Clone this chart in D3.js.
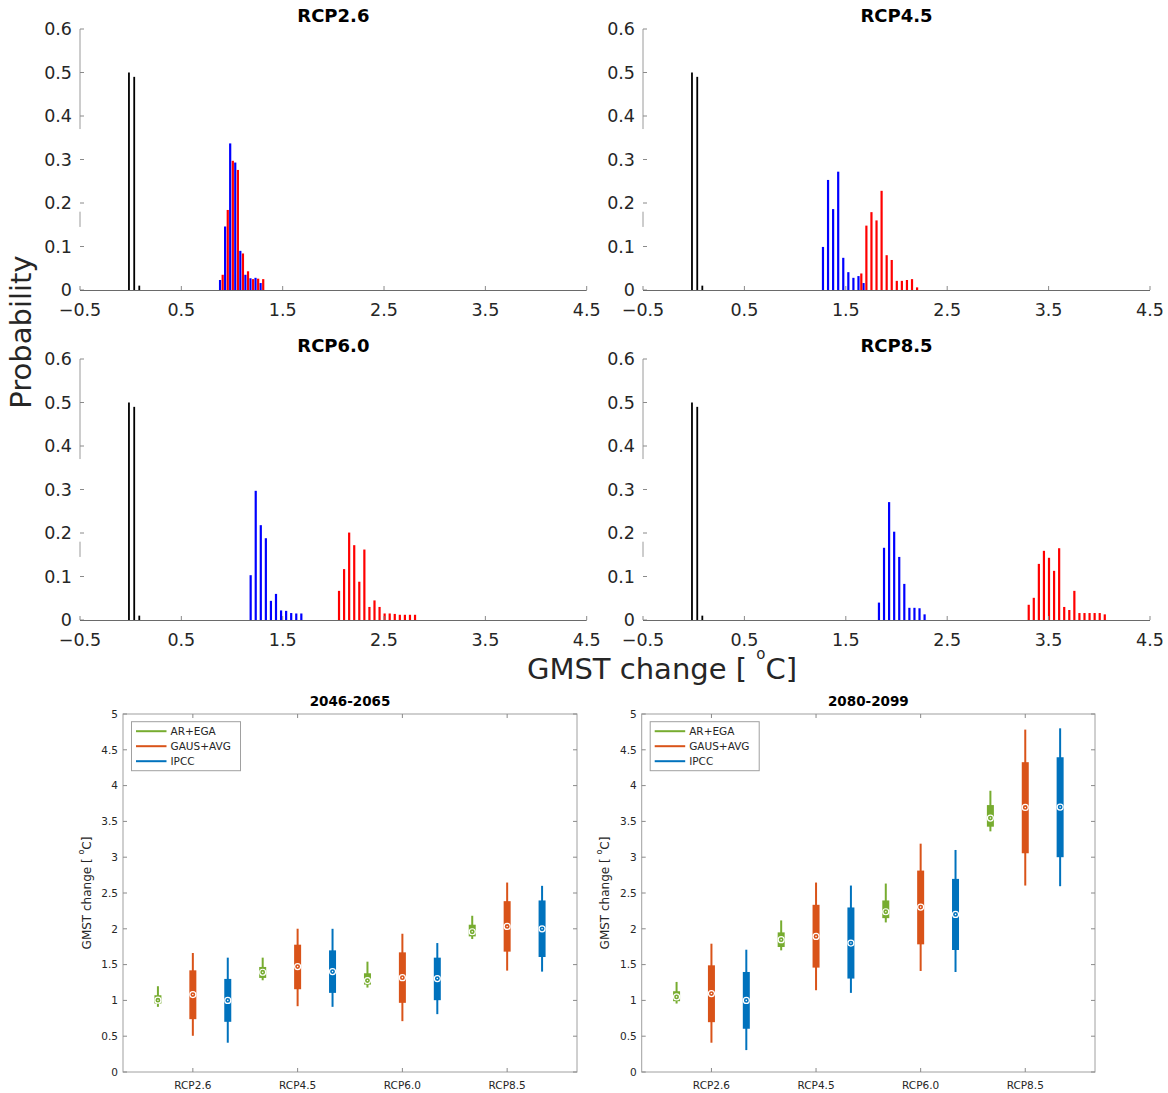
<!DOCTYPE html>
<html><head><meta charset="utf-8">
<script src="https://cdn.jsdelivr.net/npm/d3@7"></script>
<style>body{margin:0;background:#fff;} svg{display:block;font-family:"DejaVu Sans",sans-serif;}</style>
</head><body>
<svg id="c" width="1168" height="1093"></svg>
<script>
// ---------------- DATA ----------------
const histTicksX = [-0.5, 0.5, 1.5, 2.5, 3.5, 4.5];
const histTicksY = [0, 0.1, 0.2, 0.3, 0.4, 0.5, 0.6];
const histTickLabelsX = ["\u22120.5", "0.5", "1.5", "2.5", "3.5", "4.5"];
const histTickLabelsY = ["0", "0.1", "0.2", "0.3", "0.4", "0.5", "0.6"];

const blackX = [-0.017, 0.035, 0.085];
const blackP = [0.5, 0.49, 0.01];

const rcp26BlueX = [0.882, 0.932, 0.982, 1.032, 1.082, 1.132, 1.182, 1.232, 1.282];
const rcp26BlueP = [0.023, 0.146, 0.337, 0.293, 0.090, 0.035, 0.027, 0.028, 0.016];
const rcp26RedX = [0.908, 0.958, 1.008, 1.058, 1.108, 1.158, 1.208, 1.258, 1.308];
const rcp26RedP = [0.035, 0.184, 0.297, 0.276, 0.084, 0.043, 0.025, 0.026, 0.025];

const rcp45BlueX = [1.275, 1.325, 1.375, 1.425, 1.475, 1.525, 1.575, 1.625, 1.675];
const rcp45BlueP = [0.099, 0.253, 0.186, 0.272, 0.074, 0.041, 0.028, 0.032, 0.016];
const rcp45RedX = [1.653, 1.703, 1.753, 1.803, 1.853, 1.903, 1.953, 2.003, 2.053, 2.103, 2.153, 2.203];
const rcp45RedP = [0.038, 0.148, 0.179, 0.160, 0.228, 0.080, 0.069, 0.021, 0.021, 0.023, 0.025, 0.006];

const rcp60BlueX = [1.184, 1.234, 1.284, 1.334, 1.384, 1.434, 1.484, 1.534, 1.584, 1.634, 1.684];
const rcp60BlueP = [0.103, 0.297, 0.218, 0.188, 0.044, 0.060, 0.022, 0.021, 0.016, 0.015, 0.015];
const rcp60RedX = [2.056, 2.106, 2.156, 2.206, 2.256, 2.306, 2.356, 2.406, 2.456, 2.506, 2.556, 2.606, 2.656, 2.706, 2.756, 2.806];
const rcp60RedP = [0.067, 0.117, 0.201, 0.172, 0.088, 0.162, 0.030, 0.045, 0.030, 0.015, 0.015, 0.014, 0.012, 0.012, 0.012, 0.012];

const rcp85BlueX = [1.827, 1.877, 1.927, 1.977, 2.027, 2.077, 2.127, 2.177, 2.227, 2.277];
const rcp85BlueP = [0.040, 0.166, 0.271, 0.203, 0.145, 0.083, 0.028, 0.028, 0.027, 0.013];
const rcp85RedX = [3.304, 3.354, 3.404, 3.454, 3.504, 3.554, 3.604, 3.654, 3.704, 3.754, 3.804, 3.854, 3.904, 3.954, 4.004, 4.054];
const rcp85RedP = [0.035, 0.051, 0.129, 0.159, 0.143, 0.113, 0.165, 0.030, 0.023, 0.067, 0.016, 0.016, 0.016, 0.016, 0.016, 0.013];

const scenarios = ["RCP2.6", "RCP4.5", "RCP6.0", "RCP8.5"];
const methods = ["AR+EGA", "GAUS+AVG", "IPCC"];
const periods = ["2046-2065", "2080-2099"];
const boxTicksY = [0, 0.5, 1, 1.5, 2, 2.5, 3, 3.5, 4, 4.5, 5];

// period 1 (2046-2065): low whisker, q1, median, q3, high whisker per scenario
const p1ArLow = [0.91, 1.281, 1.179, 1.857];
const p1ArQ1 = [0.956, 1.314, 1.221, 1.894];
const p1ArMed = [1.003, 1.393, 1.277, 1.959];
const p1ArQ3 = [1.072, 1.467, 1.379, 2.057];
const p1ArHigh = [1.198, 1.597, 1.541, 2.182];
const p1GaLow = [0.506, 0.919, 0.71, 1.416];
const p1GaQ1 = [0.738, 1.156, 0.966, 1.681];
const p1GaMed = [1.082, 1.472, 1.318, 2.033];
const p1GaQ3 = [1.42, 1.778, 1.671, 2.386];
const p1GaHigh = [1.662, 2.001, 1.931, 2.646];
const p1IpLow = [0.409, 0.91, 0.808, 1.402];
const p1IpQ1 = [0.701, 1.105, 1.003, 1.606];
const p1IpMed = [1.0, 1.402, 1.305, 2.0];
const p1IpQ3 = [1.30, 1.699, 1.597, 2.396];
const p1IpHigh = [1.597, 2.0, 1.801, 2.6];
// period 2 (2080-2099)
const p2ArLow = [0.956, 1.699, 2.089, 3.361];
const p2ArQ1 = [0.989, 1.746, 2.149, 3.426];
const p2ArMed = [1.049, 1.848, 2.238, 3.547];
const p2ArQ3 = [1.128, 1.95, 2.396, 3.728];
const p2ArHigh = [1.258, 2.117, 2.632, 3.928];
const p2GaLow = [0.409, 1.142, 1.411, 2.604];
const p2GaQ1 = [0.696, 1.458, 1.783, 3.055];
const p2GaMed = [1.096, 1.894, 2.303, 3.695];
const p2GaQ3 = [1.49, 2.335, 2.813, 4.327];
const p2GaHigh = [1.792, 2.646, 3.189, 4.782];
const p2IpLow = [0.306, 1.105, 1.397, 2.595];
const p2IpQ1 = [0.604, 1.305, 1.704, 3.0];
const p2IpMed = [1.0, 1.801, 2.201, 3.7];
const p2IpQ3 = [1.397, 2.298, 2.697, 4.396];
const p2IpHigh = [1.708, 2.604, 3.101, 4.8];

// ---------------- DRAW ----------------
const svg = d3.select("#c");
const txt = "#262626";
const axc = "#6a6a6a";

const histPanels = [
  {title: "RCP2.6", x0: 80, x1: 586.7, y0: 290, y1: 29, blue: [rcp26BlueX, rcp26BlueP], red: [rcp26RedX, rcp26RedP], tY: 22},
  {title: "RCP4.5", x0: 643, x1: 1150, y0: 290, y1: 29, blue: [rcp45BlueX, rcp45BlueP], red: [rcp45RedX, rcp45RedP], tY: 22},
  {title: "RCP6.0", x0: 80, x1: 586.7, y0: 620, y1: 359, blue: [rcp60BlueX, rcp60BlueP], red: [rcp60RedX, rcp60RedP], tY: 352},
  {title: "RCP8.5", x0: 643, x1: 1150, y0: 620, y1: 359, blue: [rcp85BlueX, rcp85BlueP], red: [rcp85RedX, rcp85RedP], tY: 352}
];

histPanels.forEach(p => {
  const x = d3.scaleLinear().domain([-0.5, 4.5]).range([p.x0, p.x1]);
  const y = d3.scaleLinear().domain([0, 0.6]).range([p.y0, p.y1]);
  const g = svg.append("g");
  // partial y axis line (as in reference)
  g.append("line").attr("x1", x(-0.5)).attr("x2", x(-0.5)).attr("y1", y(0.6)).attr("y2", y(0.37))
    .attr("stroke", "#9a9a9a").attr("stroke-width", 1);
  g.append("line").attr("x1", x(-0.5)).attr("x2", x(-0.5)).attr("y1", y(0.18)).attr("y2", y(0.145))
    .attr("stroke", "#9a9a9a").attr("stroke-width", 1);
  // y ticks
  histTicksY.forEach((t, i) => {
    g.append("line").attr("x1", x(-0.5)).attr("x2", x(-0.5) + 4).attr("y1", y(t)).attr("y2", y(t))
      .attr("stroke", "#8a8a8a").attr("stroke-width", 1);
    g.append("text").attr("x", x(-0.5) - 8).attr("y", y(t)).attr("dy", "0.36em")
      .attr("text-anchor", "end").attr("font-size", 17.5).attr("fill", txt).text(histTickLabelsY[i]);
  });
  // bars
  const drawBars = (xs, ps, col, w) => {
    g.selectAll(null).data(xs).enter().append("rect")
      .attr("x", (d) => x(d) - w / 2).attr("width", w)
      .attr("y", (d, i) => y(ps[i])).attr("height", (d, i) => y(0) - y(ps[i]))
      .attr("fill", col);
  };
  drawBars(blackX, blackP, "#000", 1.8);
  drawBars(p.blue[0], p.blue[1], "#0000ff", 2.2);
  drawBars(p.red[0], p.red[1], "#ff0000", 2.2);
  // x axis
  g.append("line").attr("x1", p.x0).attr("x2", p.x1).attr("y1", y(0) + 0.5).attr("y2", y(0) + 0.5)
    .attr("stroke", axc).attr("stroke-width", 1.2);
  histTicksX.forEach((t, i) => {
    g.append("line").attr("x1", x(t)).attr("x2", x(t)).attr("y1", y(0)).attr("y2", y(0) - 4)
      .attr("stroke", "#8a8a8a").attr("stroke-width", 1);
    g.append("text").attr("x", x(t)).attr("y", y(0) + 26).attr("text-anchor", "middle")
      .attr("font-size", 17.5).attr("fill", txt).text(histTickLabelsX[i]);
  });
  g.append("text").attr("x", (p.x0 + p.x1) / 2).attr("y", p.tY).attr("text-anchor", "middle")
    .attr("font-size", 18).attr("font-weight", "bold").attr("fill", "#000").text(p.title);
});

// shared labels
svg.append("text").attr("transform", "translate(31,332) rotate(-90)").attr("text-anchor", "middle")
  .attr("font-size", 29).attr("fill", txt).text("Probability");
const gl = svg.append("text").attr("x", 662).attr("y", 679).attr("text-anchor", "middle")
  .attr("font-size", 29).attr("fill", txt);
gl.append("tspan").text("GMST change [ ");
gl.append("tspan").attr("font-size", 15).attr("dy", -20).text("o");
gl.append("tspan").attr("dy", 20).text("C]");

// ---------------- BOX PANELS ----------------
const colors = ["#77ac30", "#d95319", "#0072bd"];
const boxPanels = [
  {title: periods[0], x0: 123, x1: 577, ylx: 91,
    data: [[p1ArLow, p1ArQ1, p1ArMed, p1ArQ3, p1ArHigh], [p1GaLow, p1GaQ1, p1GaMed, p1GaQ3, p1GaHigh], [p1IpLow, p1IpQ1, p1IpMed, p1IpQ3, p1IpHigh]]},
  {title: periods[1], x0: 641.7, x1: 1095, ylx: 609,
    data: [[p2ArLow, p2ArQ1, p2ArMed, p2ArQ3, p2ArHigh], [p2GaLow, p2GaQ1, p2GaMed, p2GaQ3, p2GaHigh], [p2IpLow, p2IpQ1, p2IpMed, p2IpQ3, p2IpHigh]]}
];
const offsets = [-1 / 3, 0, 1 / 3];

boxPanels.forEach(p => {
  const x = d3.scaleLinear().domain([1 / 3, 4 + 2 / 3]).range([p.x0, p.x1]);
  const y = d3.scaleLinear().domain([0, 5]).range([1072, 714]);
  const g = svg.append("g");
  g.append("rect").attr("x", p.x0).attr("y", 714).attr("width", p.x1 - p.x0).attr("height", 1072 - 714)
    .attr("fill", "#fff").attr("stroke", "#a0a0a0").attr("stroke-width", 1);
  boxTicksY.forEach(t => {
    g.append("line").attr("x1", p.x0).attr("x2", p.x0 + 4).attr("y1", y(t)).attr("y2", y(t)).attr("stroke", "#8a8a8a");
    g.append("line").attr("x1", p.x1).attr("x2", p.x1 - 4).attr("y1", y(t)).attr("y2", y(t)).attr("stroke", "#8a8a8a");
    g.append("text").attr("x", p.x0 - 5).attr("y", y(t)).attr("dy", "0.36em").attr("text-anchor", "end")
      .attr("font-size", 10.5).attr("fill", txt).text(String(t));
  });
  scenarios.forEach((s, i) => {
    const cx = x(i + 1);
    g.append("line").attr("x1", cx).attr("x2", cx).attr("y1", 1072).attr("y2", 1068).attr("stroke", "#8a8a8a");
    g.append("line").attr("x1", cx).attr("x2", cx).attr("y1", 714).attr("y2", 718).attr("stroke", "#8a8a8a");
    g.append("text").attr("x", cx).attr("y", 1089).attr("text-anchor", "middle").attr("font-size", 10.5)
      .attr("fill", txt).text(s);
  });
  p.data.forEach((m, mi) => {
    const [lo, q1, med, q3, hi] = m;
    scenarios.forEach((s, i) => {
      const cx = x(i + 1 + offsets[mi]);
      g.append("line").attr("x1", cx).attr("x2", cx).attr("y1", y(lo[i])).attr("y2", y(hi[i]))
        .attr("stroke", colors[mi]).attr("stroke-width", 2);
      g.append("rect").attr("x", cx - 3.5).attr("width", 7).attr("y", y(q3[i])).attr("height", y(q1[i]) - y(q3[i]))
        .attr("fill", colors[mi]);
      g.append("circle").attr("cx", cx).attr("cy", y(med[i])).attr("r", 3).attr("fill", "none")
        .attr("stroke", "#fff").attr("stroke-width", 1.2);
      g.append("circle").attr("cx", cx).attr("cy", y(med[i])).attr("r", 0.8).attr("fill", "#fff");
    });
  });
  g.append("text").attr("x", (p.x0 + p.x1) / 2).attr("y", 706).attr("text-anchor", "middle")
    .attr("font-size", 13.5).attr("font-weight", "bold").attr("fill", "#000").text(p.title);
  const yl = g.append("text").attr("transform", `translate(${p.ylx},893) rotate(-90)`).attr("text-anchor", "middle")
    .attr("font-size", 12).attr("fill", txt);
  yl.append("tspan").text("GMST change [ ");
  yl.append("tspan").attr("font-size", 8).attr("dy", -7).text("o");
  yl.append("tspan").attr("dy", 7).text("C]");
  // legend
  const lx = p.x0 + 8.5, ly = 721.7;
  g.append("rect").attr("x", lx).attr("y", ly).attr("width", 109).attr("height", 49)
    .attr("fill", "#fff").attr("stroke", "#a0a0a0");
  methods.forEach((mname, mi) => {
    const yy = ly + 9.5 + mi * 15;
    g.append("line").attr("x1", lx + 4.5).attr("x2", lx + 35).attr("y1", yy).attr("y2", yy)
      .attr("stroke", colors[mi]).attr("stroke-width", 2);
    g.append("text").attr("x", lx + 39).attr("y", yy).attr("dy", "0.36em").attr("font-size", 10.5)
      .attr("fill", txt).text(mname);
  });
});
</script>
</body></html>
